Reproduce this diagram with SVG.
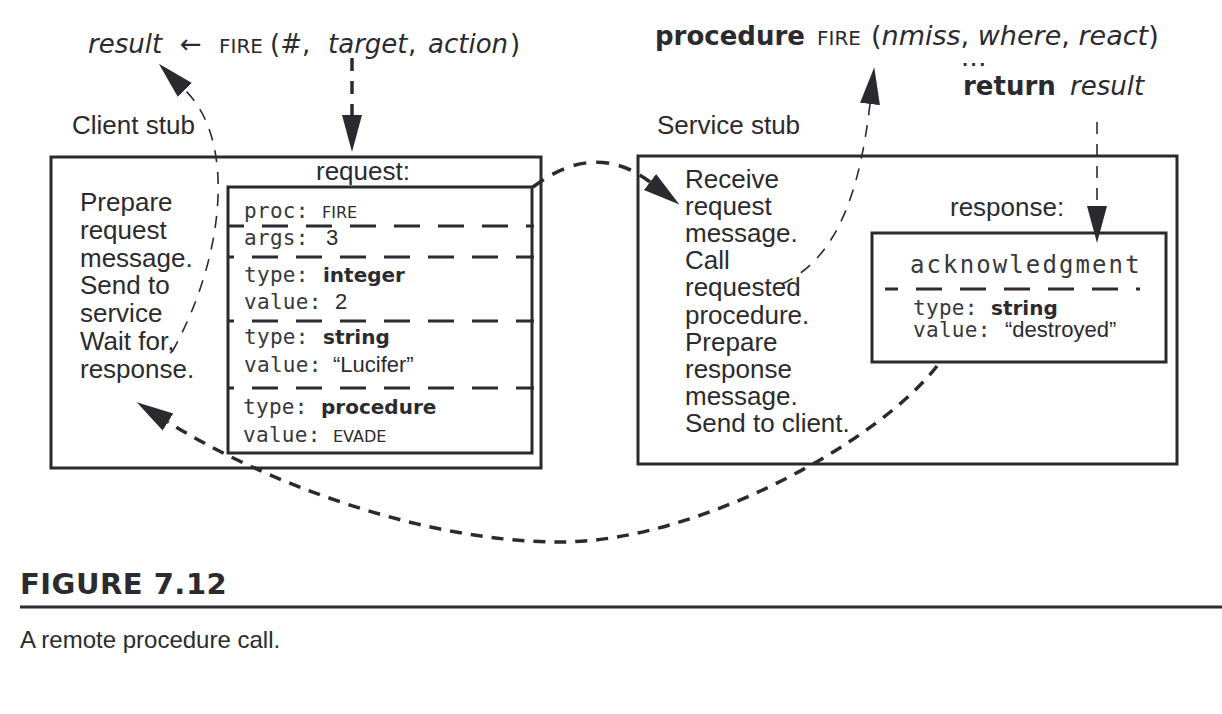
<svg xmlns="http://www.w3.org/2000/svg" width="1222" height="714" viewBox="0 0 1222 714">
<style>
.box{fill:none;stroke:#2b2b2f;stroke-width:3}
.sep{fill:none;stroke:#2b2b2f;stroke-width:3;stroke-dasharray:26 18}
.t{font-family:"Liberation Sans",Arial,sans-serif;font-size:26px;fill:#2b2b2f}
.m{font-family:"DejaVu Sans Mono",monospace;font-size:21px;letter-spacing:0.3px;fill:#38383c}
.sc{font-family:"DejaVu Sans",sans-serif;font-size:16px;fill:#2b2b2f}
.b{font-family:"DejaVu Sans",sans-serif;font-weight:bold;font-size:20px;fill:#2b2b2f}
.q{font-family:"Liberation Sans",Arial,sans-serif;font-size:22px;fill:#2b2b2f}
.h{font-family:"DejaVu Sans",sans-serif;font-size:26px;fill:#2b2b2f}
.hi{font-family:"DejaVu Sans",sans-serif;font-style:italic;font-size:26px;fill:#2b2b2f}
.hb{font-family:"DejaVu Sans",sans-serif;font-weight:bold;font-size:26px;fill:#2b2b2f}
.hs{font-family:"DejaVu Sans",sans-serif;font-size:20px;fill:#2b2b2f}
.thick{fill:none;stroke:#2b2b2f;stroke-width:3.5;stroke-dasharray:13 10}
.arc{fill:none;stroke:#2b2b2f;stroke-width:3.5;stroke-dasharray:12 9}
.thin{fill:none;stroke:#2b2b2f;stroke-width:1.6;stroke-dasharray:12 10}
</style>
<defs>
<marker id="ah" markerUnits="userSpaceOnUse" markerWidth="40" markerHeight="22" refX="0" refY="10" orient="auto" viewBox="0 0 40 20">
<path d="M0,0 L37,10 L0,20 Z" fill="#2b2b2f"/>
</marker>
</defs>
<rect width="1222" height="714" fill="#ffffff"/>

<g id="title-call">
<text y="53"><tspan class="hi" x="88">result</tspan><tspan class="h" x="180">←</tspan><tspan class="hs" x="219">FIRE</tspan><tspan class="h" x="270">(#,</tspan><tspan class="hi" x="328">target</tspan><tspan class="h" x="408">,</tspan><tspan class="hi" x="428">action</tspan><tspan class="h" x="510">)</tspan></text>
</g>

<g id="title-procedure">
<text y="45"><tspan class="hb" x="655">procedure</tspan><tspan class="hs" x="817">FIRE</tspan><tspan class="h" x="871" style="font-size:27px">(</tspan><tspan class="hi" style="font-size:27px">nmiss</tspan><tspan class="h" style="font-size:27px">, </tspan><tspan class="hi" style="font-size:27px">where</tspan><tspan class="h" style="font-size:27px">, </tspan><tspan class="hi" style="font-size:27px">react</tspan><tspan class="h" style="font-size:27px">)</tspan></text>
<text class="hb" x="962" y="66.4" style="font-size:16px;letter-spacing:2.5px">...</text>
<text y="95"><tspan class="hb" x="963">return</tspan><tspan class="hi" x="1070">result</tspan></text>
</g>

<g id="client-stub">
<text class="t" x="72" y="134">Client stub</text>
<rect class="box" x="51" y="157" width="490" height="311"/>
<text class="t">
<tspan x="80" y="211">Prepare</tspan>
<tspan x="80" y="238.8">request</tspan>
<tspan x="80" y="266.6">message.</tspan>
<tspan x="80" y="294.4">Send to</tspan>
<tspan x="80" y="322.2">service</tspan>
<tspan x="80" y="350">Wait for,</tspan>
<tspan x="80" y="377.8">response.</tspan>
</text>
</g>

<g id="request">
<text class="t" x="316" y="180">request:</text>
<rect class="box" x="228" y="187" width="304" height="266"/>
<line class="sep" x1="228" y1="226" x2="534" y2="226" stroke-dashoffset="10"/>
<line class="sep" x1="228" y1="257" x2="534" y2="257" stroke-dashoffset="20"/>
<line class="sep" x1="228" y1="321" x2="534" y2="321" stroke-dashoffset="20"/>
<line class="sep" x1="228" y1="388" x2="534" y2="388" stroke-dashoffset="20"/>
<text class="m" x="244" y="218">proc:</text><text class="sc" x="322" y="218">FIRE</text>
<text class="m" x="244" y="245">args:</text><text class="q" x="326" y="245">3</text>
<text class="m" x="244" y="282">type:</text><text class="b" x="323" y="282">integer</text>
<text class="m" x="244" y="309">value:</text><text class="q" x="335" y="309">2</text>
<text class="m" x="244" y="344">type:</text><text class="b" x="323" y="344">string</text>
<text class="m" x="244" y="372">value:</text><text class="q" x="333" y="372">“Lucifer”</text>
<text class="m" x="243" y="414">type:</text><text class="b" x="321" y="414">procedure</text>
<text class="m" x="243" y="442">value:</text><text class="sc" x="333" y="442">EVADE</text>
</g>

<g id="service-stub">
<text class="t" x="657" y="134">Service stub</text>
<rect class="box" x="638" y="156" width="539" height="308"/>
<text class="t">
<tspan x="685" y="188">Receive</tspan>
<tspan x="685" y="215.1">request</tspan>
<tspan x="685" y="242.2">message.</tspan>
<tspan x="685" y="269.3">Call</tspan>
<tspan x="685" y="296.4">requested</tspan>
<tspan x="685" y="323.5">procedure.</tspan>
<tspan x="685" y="350.6">Prepare</tspan>
<tspan x="685" y="377.7">response</tspan>
<tspan x="685" y="404.8">message.</tspan>
<tspan x="685" y="431.9">Send to client.</tspan>
</text>
</g>

<g id="response">
<text class="t" x="950" y="216">response:</text>
<rect class="box" x="872" y="233" width="294" height="129"/>
<text class="m" x="910" y="273" style="font-size:24px;letter-spacing:2.1px">acknowledgment</text>
<line class="sep" x1="885" y1="289" x2="1140" y2="289" stroke-dashoffset="13"/>
<text class="m" x="913" y="315">type:</text><text class="b" x="991" y="315">string</text>
<text class="m" x="913" y="337">value:</text><text class="q" x="1005" y="337">“destroyed”</text>
</g>

<g id="connectors">
<path class="thick" d="M352,58 L352,115" marker-end="url(#ah)"/>
<path class="thick" d="M533,187 Q595,140 650,182" marker-end="url(#ah)"/>
<path class="thin" d="M782,284 C838,258 860,190 870,104" marker-end="url(#ah)"/>
<path class="thin" d="M1097,122 L1097,206" marker-end="url(#ah)"/>
<path class="arc" d="M937,366 C880,440 700,542 560,542 C420,542 260,480 168,422" marker-end="url(#ah)"/>
<path class="thin" d="M172,352 C212,280 222,210 217,165 C213,128 200,105 185,90" marker-end="url(#ah)"/>
</g>

<g id="caption">
<text x="20" y="594" style="font-family:'DejaVu Sans',sans-serif;font-weight:bold;font-size:29px;letter-spacing:0.5px;fill:#2b2b2f">FIGURE 7.12</text>
<line x1="20" y1="607" x2="1222" y2="607" stroke="#2b2b2f" stroke-width="3"/>
<text x="20" y="648" style="font-family:'Liberation Sans',Arial,sans-serif;font-size:24px;fill:#2b2b2f">A remote procedure call.</text>
</g>
</svg>
